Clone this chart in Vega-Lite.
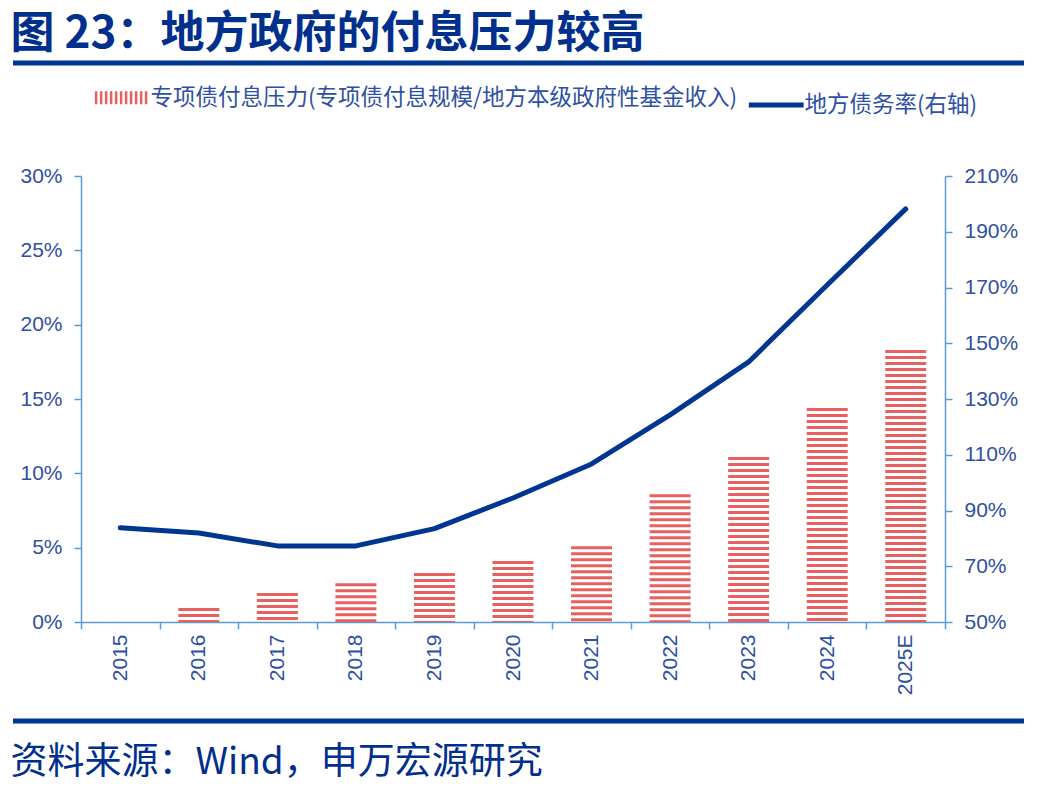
{
  "$schema": "https://vega.github.io/schema/vega-lite/v6.json",
  "background": "white",
  "padding": {"left": 10, "top": 12, "right": 10, "bottom": 0},
  "config": {"view": {"stroke": null}, "font": "Liberation Sans"},
  "spacing": 8,
  "vconcat": [
    {
      "title": {
        "text": "图 23：地方政府的付息压力较高",
        "anchor": "start",
        "frame": "bounds",
        "font": "Noto Sans CJK SC",
        "fontSize": 44,
        "fontWeight": "bold",
        "color": "#002f8e",
        "offset": 4
      },
      "width": 864,
      "height": 94,
      "data": {"values": [{}]},
      "mark": {"type": "rule", "stroke": "#003594", "strokeWidth": 5},
      "encoding": {
        "x": {"datum": 0, "type": "quantitative", "scale": {"domain": [0, 1], "range": [-68, 943]}, "axis": null},
        "x2": {"datum": 1},
        "y": {"datum": 1, "type": "quantitative", "scale": {"domain": [0, 1]}, "axis": null}
      }
    },
    {
      "width": 864,
      "height": 446,
      "data": {
        "values": [
          {"year": "2015", "debt": 0.838},
          {"year": "2016", "pressure": 0.0094, "debt": 0.819},
          {"year": "2017", "pressure": 0.0195, "debt": 0.773},
          {"year": "2018", "pressure": 0.026, "debt": 0.773},
          {"year": "2019", "pressure": 0.033, "debt": 0.835},
          {"year": "2020", "pressure": 0.041, "debt": 0.945},
          {"year": "2021", "pressure": 0.051, "debt": 1.067},
          {"year": "2022", "pressure": 0.086, "debt": 1.243},
          {"year": "2023", "pressure": 0.111, "debt": 1.433},
          {"year": "2024", "pressure": 0.144, "debt": 1.709},
          {"year": "2025E", "pressure": 0.183, "debt": 1.982}
        ]
      },
      "encoding": {
        "x": {
          "field": "year",
          "type": "ordinal",
          "sort": ["2015", "2016", "2017", "2018", "2019", "2020", "2021", "2022", "2023", "2024", "2025E"],
          "scale": {"paddingInner": 0, "paddingOuter": 0},
          "axis": {
            "title": null,
            "labelAngle": -90,
            "tickBand": "extent",
            "labelFontSize": 21,
            "labelColor": "#2e50a2",
            "domainColor": "#5b9bd5",
            "domainWidth": 1.5,
            "tickColor": "#5b9bd5",
            "tickWidth": 1.5,
            "tickSize": 7,
            "labelPadding": 5
          }
        }
      },
      "layer": [
        {
          "mark": {"type": "rule", "strokeWidth": 41, "strokeDash": [3, 3]},
          "encoding": {
            "y": {
              "field": "pressure",
              "type": "quantitative",
              "scale": {"domain": [0, 0.3]},
              "axis": {
                "orient": "left",
                "title": null,
                "format": ".0%",
                "values": [0, 0.05, 0.1, 0.15, 0.2, 0.25, 0.3],
                "labelFontSize": 21,
                "labelColor": "#2e50a2",
                "domainColor": "#5b9bd5",
                "domainWidth": 1.5,
                "tickColor": "#5b9bd5",
                "tickWidth": 1.5,
                "tickSize": 7,
                "labelPadding": 12,
                "grid": false
              }
            },
            "y2": {"datum": 0},
            "color": {
              "datum": "专项债付息压力(专项债付息规模/地方本级政府性基金收入)",
              "type": "nominal",
              "scale": {
                "domain": ["专项债付息压力(专项债付息规模/地方本级政府性基金收入)", "地方债务率(右轴)"],
                "range": ["#e8605f", "#003591"]
              },
              "legend": {
                "orient": "none",
                "legendX": 30,
                "legendY": 23,
                "direction": "horizontal",
                "title": null,
                "symbolType": "stroke",
                "symbolSize": 3000,
                "labelFont": "Noto Sans CJK SC",
                "labelFontSize": 22.5,
                "labelColor": "#2e50a2",
                "labelLimit": 1000,
                "labelOffset": 17,
                "columnPadding": 0,
                "encode": {
                  "symbols": {
                    "update": {
                      "strokeWidth": {"signal": "datum.value === '地方债务率(右轴)' ? 5 : 13"},
                      "strokeDash": {"signal": "datum.value === '地方债务率(右轴)' ? [1, 0] : [2.5, 2.5]"}
                    }
                  }
                }
              }
            }
          }
        },
        {
          "mark": {"type": "line", "strokeWidth": 5, "strokeCap": "round", "strokeJoin": "round"},
          "encoding": {
            "y": {
              "field": "debt",
              "type": "quantitative",
              "scale": {"domain": [0.5, 2.1]},
              "axis": {
                "orient": "right",
                "title": null,
                "format": ".0%",
                "values": [0.5, 0.7, 0.9, 1.1, 1.3, 1.5, 1.7, 1.9, 2.1],
                "labelFontSize": 21,
                "labelColor": "#2e50a2",
                "domainColor": "#5b9bd5",
                "domainWidth": 1.5,
                "tickColor": "#5b9bd5",
                "tickWidth": 1.5,
                "tickSize": 7,
                "labelPadding": 12,
                "grid": false
              }
            },
            "color": {"datum": "地方债务率(右轴)", "type": "nominal"}
          }
        }
      ],
      "resolve": {"scale": {"y": "independent"}}
    },
    {
      "title": {
        "text": "资料来源：Wind，申万宏源研究",
        "orient": "bottom",
        "anchor": "start",
        "frame": "bounds",
        "font": "Noto Sans CJK SC",
        "fontSize": 37,
        "fontWeight": "normal",
        "color": "#002f8e",
        "offset": 21
      },
      "width": 864,
      "height": 18,
      "data": {"values": [{}]},
      "mark": {"type": "rule", "stroke": "#003594", "strokeWidth": 5},
      "encoding": {
        "x": {"datum": 0, "type": "quantitative", "scale": {"domain": [0, 1], "range": [-68, 943]}, "axis": null},
        "x2": {"datum": 1},
        "y": {"datum": 0, "type": "quantitative", "scale": {"domain": [0, 1]}, "axis": null}
      }
    }
  ]
}
